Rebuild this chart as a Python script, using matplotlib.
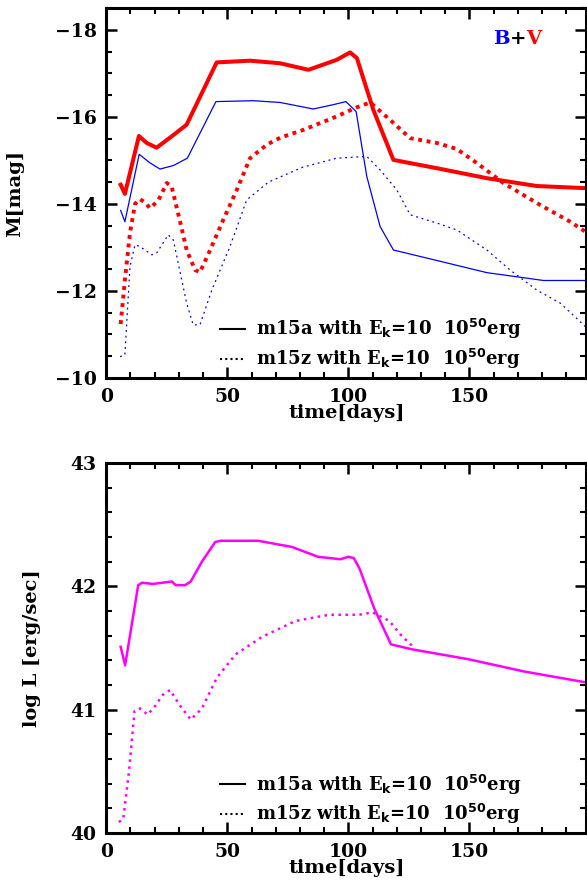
import numpy as np
import matplotlib.pyplot as plt
from matplotlib.lines import Line2D
from matplotlib.ticker import MultipleLocator

plt.rcParams['font.family'] = ['DejaVu Serif']
plt.rcParams['font.weight'] = 'bold'
plt.rcParams['axes.labelweight'] = 'bold'
plt.rcParams['mathtext.default'] = 'bf'

# m15a, V band (red solid)
t_a_v = [5.95, 7.7, 13.5, 16.7, 20.8, 27.0, 33.2, 45.6, 59.4, 71.8, 83.5,
         95.2, 100.7, 103.5, 110.3, 118.6, 136.5, 157.2, 177.8, 198.5]
m_a_v = [-14.44, -14.23, -15.56, -15.40, -15.29, -15.55, -15.82, -17.25, -17.29,
         -17.23, -17.08, -17.31, -17.48, -17.35, -16.16, -15.01, -14.82, -14.59,
         -14.41, -14.36]

# m15a, B band (blue solid)
t_a_b = [5.95, 7.7, 13.6, 18.1, 22.2, 27.7, 33.5, 45.3, 60.8, 71.8, 85.5, 93.8,
         99.0, 103.2, 107.6, 113.1, 118.6, 136.5, 157.2, 180.6, 198.5]
m_a_b = [-13.85, -13.59, -15.14, -14.94, -14.80, -14.88, -15.05, -16.35, -16.37,
         -16.33, -16.18, -16.28, -16.35, -16.12, -14.63, -13.48, -12.94, -12.70,
         -12.42, -12.24, -12.24]

# m15z, V band (red dotted)
t_z_v = [5.95, 7.7, 9.8, 11.9, 13.9, 16.0, 18.1, 21.5, 25.0, 27.0, 30.5, 33.2,
         36.7, 38.7, 42.9, 48.3, 53.9, 59.4, 66.3, 71.8, 81.4, 95.2, 103.5, 109.0,
         117.2, 125.5, 136.5, 144.8, 153.0, 164.0, 177.8, 191.6, 198.5]
m_z_v = [-11.24, -12.25, -13.33, -14.00, -14.11, -14.03, -13.90, -14.08, -14.48,
         -14.40, -13.59, -12.94, -12.48, -12.43, -12.94, -13.63, -14.32, -15.05,
         -15.36, -15.52, -15.70, -16.01, -16.22, -16.33, -15.93, -15.51, -15.40,
         -15.26, -14.94, -14.48, -14.02, -13.59, -13.34]

# m15z, B band (blue dotted)
t_z_b = [5.7, 7.7, 9.8, 11.9, 13.9, 18.8, 20.8, 25.6, 27.7, 33.2, 35.9, 38.7,
         43.6, 51.1, 58.0, 67.0, 81.0, 95.2, 107.6, 113.1, 120.0, 125.5, 136.5,
         144.8, 157.2, 166.8, 177.8, 187.5, 198.5]
m_z_b = [-10.49, -10.53, -12.56, -13.06, -13.02, -12.83, -12.87, -13.29, -13.17,
         -11.72, -11.22, -11.22, -12.02, -13.02, -14.09, -14.50, -14.84, -15.05,
         -15.09, -14.78, -14.32, -13.75, -13.56, -13.40, -12.94, -12.48, -12.02,
         -11.72, -11.15]

# bolometric luminosity, m15a (solid)
t_a_l = [5.95, 7.8, 13.2, 14.8, 19.4, 27.1, 28.7, 32.6, 34.9, 39.5, 45.0, 47.3,
         62.7, 76.7, 87.5, 96.8, 99.9, 102.2, 104.5, 110.7, 117.6, 126.2, 149.4,
         172.6, 198.6]
l_a = [41.51, 41.36, 42.01, 42.03, 42.02, 42.04, 42.01, 42.01, 42.04, 42.20,
       42.36, 42.37, 42.37, 42.32, 42.24, 42.22, 42.24, 42.23, 42.15, 41.82,
       41.53, 41.49, 41.41, 41.31, 41.22]

# bolometric luminosity, m15z (dotted)
t_z_l = [5.2, 7.0, 9.4, 11.7, 14.0, 17.1, 20.2, 23.3, 26.4, 30.2, 34.9, 39.5,
         45.7, 53.5, 64.3, 78.2, 92.1, 104.5, 109.9, 116.9, 121.5, 126.2]
l_z = [40.09, 40.11, 40.50, 40.99, 41.01, 40.96, 41.03, 41.12, 41.16, 41.04,
       40.92, 41.01, 41.26, 41.45, 41.59, 41.72, 41.77, 41.77, 41.79, 41.72,
       41.61, 41.52]

lab_a = r'm15a with E$_{\rm k}$=10  10$^{50}$erg'
lab_z = r'm15z with E$_{\rm k}$=10  10$^{50}$erg'

red = '#ff0000'
blue = '#0000ff'
mag = '#ff00ff'


def style_axes(ax, ymajor, yminor):
    ax.set_xlim(0, 198.3)
    ax.xaxis.set_major_locator(MultipleLocator(50))
    ax.xaxis.set_minor_locator(MultipleLocator(10))
    ax.yaxis.set_major_locator(MultipleLocator(ymajor))
    ax.yaxis.set_minor_locator(MultipleLocator(yminor))
    ax.tick_params(which='both', direction='in', top=True, right=True,
                   labelsize=13.5, pad=7)
    ax.tick_params(which='major', length=8, width=1.8)
    ax.tick_params(which='minor', length=4, width=1.5)
    for s in ax.spines.values():
        s.set_linewidth(2.2)
    ax.set_xlabel('time[days]', fontsize=14, labelpad=-1)


def add_legend(ax):
    handles = [Line2D([], [], color='k', lw=1.5),
               Line2D([], [], color='k', lw=1.5, linestyle=(0, (1, 1.5)))]
    ax.legend(handles, [lab_a, lab_z], loc='lower right',
              bbox_to_anchor=(0.9, -0.025), frameon=False, fontsize=13,
              handlelength=1.4, handletextpad=0.6, labelspacing=0.3)


fig = plt.figure(figsize=(5.87, 8.90), dpi=100)
ax1 = fig.add_axes([0.181, 0.5753, 0.818, 0.4157])
ax2 = fig.add_axes([0.181, 0.0640, 0.818, 0.4157])

ax1.plot(t_a_v, m_a_v, color=red, lw=2.9, solid_joinstyle='round')
ax1.plot(t_a_b, m_a_b, color=blue, lw=0.9)
ax1.plot(t_z_v, m_z_v, color=red, lw=2.8, linestyle=(0, (1, 1.2)))
ax1.plot(t_z_b, m_z_b, color=blue, lw=0.9, linestyle=(0, (1.5, 3)))
ax1.set_ylim(-10, -18.5)
style_axes(ax1, 2, 0.5)
ax1.set_ylabel('M[mag]', fontsize=14)
ax1.yaxis.set_label_coords(-0.17, 0.5)
add_legend(ax1)

tb = ax1.text(0.806, 0.916, 'B', color=blue, fontsize=14, transform=ax1.transAxes,
              va='center', ha='left')
tp = ax1.annotate('+', xy=(1, 0), xycoords=tb, va='bottom', ha='left',
                  fontsize=14, color='k')
ax1.annotate('V', xy=(1, 0), xycoords=tp, va='bottom', ha='left',
             fontsize=14, color=red)

ax2.plot(t_a_l, l_a, color=mag, lw=1.8)
ax2.plot(t_z_l, l_z, color=mag, lw=1.8, linestyle=(0, (1, 1.8)))
ax2.set_ylim(40, 43)
style_axes(ax2, 1, 0.2)
ax2.set_ylabel('log L [erg/sec]', fontsize=14)
ax2.yaxis.set_label_coords(-0.135, 0.5)
add_legend(ax2)

fig.savefig('out.png', dpi=100)
